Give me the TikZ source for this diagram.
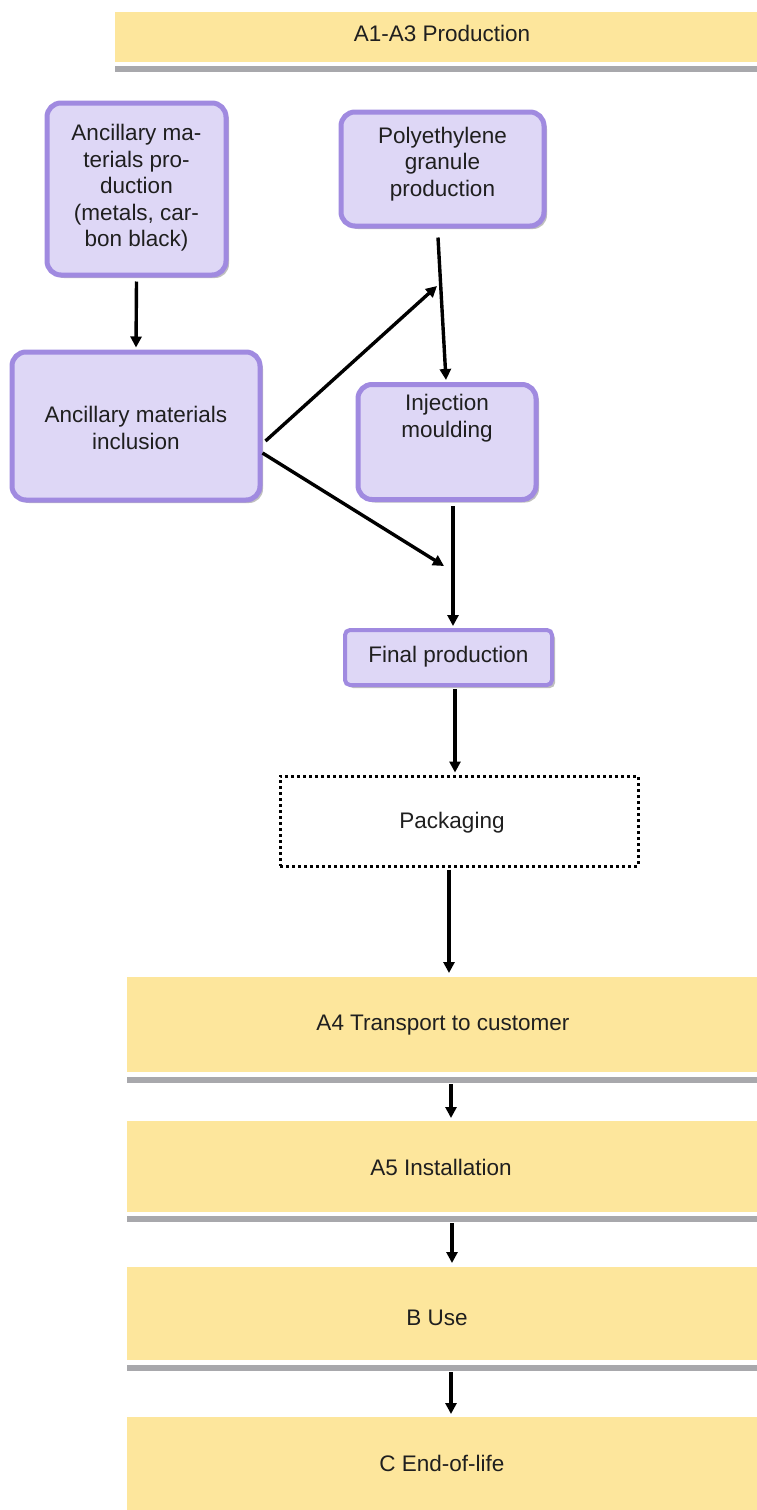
\documentclass[tikz,border=0pt]{standalone}
\usepackage{fontspec}
\setmainfont{Liberation Sans}
\usetikzlibrary{arrows.meta,shadows}
\definecolor{pborder}{HTML}{A08AE0}
\definecolor{pfill}{HTML}{DED7F6}
\definecolor{ybar}{HTML}{FDE69C}
\definecolor{gline}{HTML}{A8A8AC}
\tikzset{
  x=1pt,y=-1pt,
  pbox/.style={draw=pborder,fill=pfill,line width=5pt,rounded corners=14pt,
    drop shadow={shadow xshift=3pt,shadow yshift=-3pt,opacity=.5,fill=gray}},
  pthin/.style={draw=pborder,fill=pfill,line width=4pt,rounded corners=5pt,
    drop shadow={shadow xshift=3pt,shadow yshift=-3pt,opacity=.5,fill=gray}},
  txt/.style={align=center,font=\fontsize{22.5}{26.5}\selectfont,text=black!88,inner sep=0pt},
  ybarbox/.style={fill=ybar,draw=none},
  gbar/.style={fill=gline,draw=none},
  arr/.style={line width=3.4pt,-{Triangle[length=11pt,width=11pt]}},
  packbox/.style={draw=black,line width=3pt,dash pattern=on 3pt off 3pt},
}
\begin{document}
\begin{tikzpicture}
\useasboundingbox (0,0) rectangle (757,1510);
% top bar
\fill[gbar] (115,66) rectangle (757,72);
\node[ybarbox,minimum width=642,minimum height=50,anchor=north west] (top) at (115,12) {};
\node[txt] (topt) at (442,33) {A1-A3 Production};
% purple boxes
\node[pbox,minimum width=179,minimum height=172] (amp) at (136.5,189) {};
\node[txt] (ampt) at (136.5,188) {Ancillary ma-\\terials pro-\\duction\\(metals, car-\\bon black)};
\node[pbox,minimum width=203,minimum height=114] (pe) at (442.5,169) {};
\node[txt] (pet) at (442.5,164) {Polyethylene\\granule\\production};
\node[pbox,minimum width=248,minimum height=148] (inc) at (136,426) {};
\node[txt] (inct) at (136,428) {Ancillary materials\\inclusion};
\node[pbox,minimum width=178,minimum height=115] (inj) at (447,442) {};
\node[txt] (injt) at (447,418) {Injection\\moulding};
\node[pthin,minimum width=207,minimum height=55] (fin) at (448.5,657.5) {};
\node[txt] (fint) at (448.5,657) {Final production};
% packaging
\node[packbox,minimum width=358,minimum height=90] (pack) at (459,821) {};
\node[txt] (packt) at (452,823) {Packaging};
% lower bars
\fill[gbar] (127,1077) rectangle (757,1083);
\node[ybarbox,minimum width=630,minimum height=95,anchor=north west] (a4) at (127,977) {};
\node[txt] (a4t) at (443,1025) {A4 Transport to customer};
\fill[gbar] (127,1216) rectangle (757,1222);
\node[ybarbox,minimum width=630,minimum height=91,anchor=north west] (a5) at (127,1121) {};
\node[txt] (a5t) at (441,1167) {A5 Installation};
\fill[gbar] (127,1365) rectangle (757,1371);
\node[ybarbox,minimum width=630,minimum height=93,anchor=north west] (b) at (127,1267) {};
\node[txt] (bt) at (437,1318) {B Use};
\node[ybarbox,minimum width=630,minimum height=93,anchor=north west] (c) at (127,1417) {};
\node[txt] (ct) at (442,1463) {C End-of-life};
% connector end points
\coordinate (upend) at (437,286);
\coordinate (lowend) at (444,566);
% arrows
\draw[arr] (amp.south) ++(0,4) -- ([yshift=2pt]inc.north);
\draw[arr] ([xshift=-4.5pt,yshift=-9pt]pe.south) -- ([xshift=-1pt,yshift=2pt]inj.north);
\draw[arr] ([xshift=3pt,yshift=-15pt]inc.east) -- (upend);
\draw[arr] ([xshift=0pt,yshift=-27pt]inc.east) -- (lowend);
\draw[arr] ([xshift=6pt,yshift=-4pt]inj.south) -- ([xshift=4.5pt,yshift=2pt]fin.north);
\draw[arr] ([xshift=6.5pt,yshift=-2pt]fin.south) -- ([xshift=6.5pt,yshift=2pt]fin.south |- pack.north);
\draw[arr] ([yshift=-2pt]pack.south -| 449,0) -- ([yshift=4pt]a4.north -| 449,0);
\draw[arr] (451,1084) -- ([yshift=3pt]a5.north -| 451,0);
\draw[arr] (452,1223) -- ([yshift=4pt]b.north -| 452,0);
\draw[arr] (451,1372) -- ([yshift=3pt]c.north -| 451,0);
\end{tikzpicture}
\end{document}
